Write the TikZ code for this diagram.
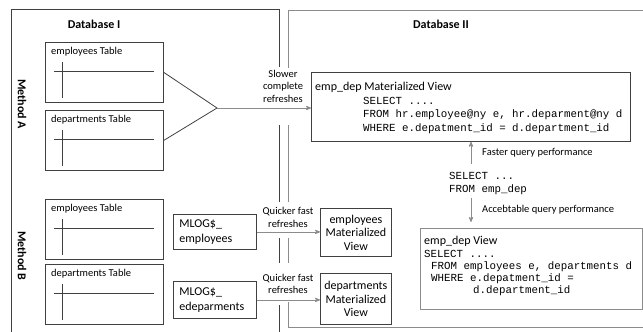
\documentclass[tikz,border=0pt]{standalone}
\usepackage{fontspec}
\setmainfont{Carlito}
\setmonofont{Liberation Mono}
\usetikzlibrary{calc}
\usetikzlibrary{arrows}
\usetikzlibrary{positioning}
\usepackage{xcolor}

\definecolor{frameI}{HTML}{404040}
\definecolor{frameII}{HTML}{8C8C8C}

\tikzset{
 hdr/.style={font=\fontsize{12}{14}\selectfont\bfseries},
 lbl/.style={font=\fontsize{10.5}{12.5}\selectfont, align=center, inner sep=0},
 box/.style={draw=frameI, thick, anchor=north west, inner sep=0},
 tbl/.style={box, minimum width=118, minimum height=60},
 boxtext/.style={font=\fontsize{12}{14}\selectfont, inner sep=0},
 code/.style={font=\fontsize{10.8}{13.3}\ttfamily, align=left, inner sep=0, anchor=north west},
 flow/.style={frameII, thick, ->, >=stealth'},
}

\begin{document}
\begin{tikzpicture}[x=1pt, y=-1pt]
\useasboundingbox (0,0) rectangle (643,332);
% the two databases
\draw[frameI, thick] (279,67) -- (279,9) -- (11,9) -- (11,332);
\draw[frameII, thick] (643,10.5) -- (288,10.5) -- (288,68);
\foreach \a/\b in {125/202, 238/263} {
 \draw[frameI, thick] (279,\a) -- (279,\b);
 \draw[frameII, thick] (288,\a) -- (288,\b);
}
\draw[frameI, thick] (279,305) -- (279,332);
\draw[frameII, thick] (288,302) -- (288,327) -- (643,327);

\node[hdr] (dbI) at (94,24) {Database I};
\node[hdr] (dbII) at (441,24) {Database II};
\node[hdr, rotate=-90] (methA) at (22,104) {Method A};
\node[hdr, rotate=-90] (methB) at (22,256) {Method B};

% tables
\node[tbl, label={[lbl, anchor=north west, xshift=6, yshift=-5]north west:employees Table}] (empA) at (45,42) {};
\node[tbl, label={[lbl, anchor=north west, xshift=6, yshift=-5]north west:departments Table}] (depA) at (45,110) {};
\node[tbl, label={[lbl, anchor=north west, xshift=6, yshift=-5]north west:employees Table}] (empB) at (45,199) {};
\node[tbl, label={[lbl, anchor=north west, xshift=6, yshift=-5]north west:departments Table}] (depB) at (45,264) {};
\foreach \t in {empA,depA,empB,depB} {
 \draw[frameI, thick] ($(\t.north west)+(9,29)$) --++(100,0);
 \draw[frameI, thick] ($(\t.north west)+(17,20)$) --++(0,36);
}

% method A
\coordinate (apex) at (217,108);
\node[box, minimum width=319, minimum height=69] (mv) at (311,72) {};
\node[boxtext, anchor=west] (mvT) at (315,87) {emp\_dep Materialized View};
\node[code] (mvC) at (363,97) {SELECT ....\\FROM hr.employee@ny e, hr.deparment@ny d\\WHERE e.depatment\_id = d.department\_id};
\node[lbl] (slow) at (283,86) {Slower\\complete\\refreshes};
\draw[frameI, thick] (empA.east) -- (apex) -- (depA.east);
\draw[flow] (apex) -- (apex -| mv.west);

\coordinate (ax) at (471,0);
\node[code] (qry) at (449,172) {SELECT ...\\FROM emp\_dep};
\node[lbl, anchor=west] (fast) at (482,153) {Faster query performance};
\node[lbl, anchor=west] (acc) at (482,210) {Accebtable query performance};
\node[box, draw=frameII, minimum width=222, minimum height=81] (vw) at (420,228) {};
\node[boxtext, anchor=west] (vwT) at (424,241) {emp\_dep View};
\node[code, font=\fontsize{10.8}{12}\ttfamily] (vwC) at (424,250) {SELECT ....\\\hspace*{7pt}FROM employees e, departments d\\\hspace*{7pt}WHERE e.depatment\_id =\\\hspace*{49pt}d.department\_id};
\draw[flow, shorten <=8] (qry.north -| ax) -- (mv.south -| ax);
\draw[flow, shorten <=3, shorten >=6] (qry.south -| ax) -- (vw.north -| ax);

% method B
\node[box, boxtext, minimum width=83, minimum height=35, text width=71, inner xsep=6, align=left, font=\fontsize{12}{15}\selectfont] (mlogE) at (173,214) {MLOG\$\_\\employees};
\node[box, boxtext, minimum width=83, minimum height=37, text width=71, inner xsep=6, align=left, font=\fontsize{12}{15}\selectfont] (mlogD) at (173,281) {MLOG\$\_\\edeparments};
\node[box, boxtext, minimum width=71, minimum height=48, align=center, font=\fontsize{12}{13.5}\selectfont] (mvE) at (320,208) {employees\\Materialized\\View};
\node[box, boxtext, minimum width=71, minimum height=51, align=center, font=\fontsize{12}{13.5}\selectfont] (mvD) at (320,273) {departments\\Materialized\\View};
\node[lbl] (qkE) at (288,217.5) {Quicker fast\\refreshes};
\node[lbl] (qkD) at (288,284) {Quicker fast\\refreshes};
\draw[flow] (mlogE) -- (mlogE -| mvE.west);
\draw[flow] (mlogD) -- (mlogD -| mvD.west);
\end{tikzpicture}
\end{document}
